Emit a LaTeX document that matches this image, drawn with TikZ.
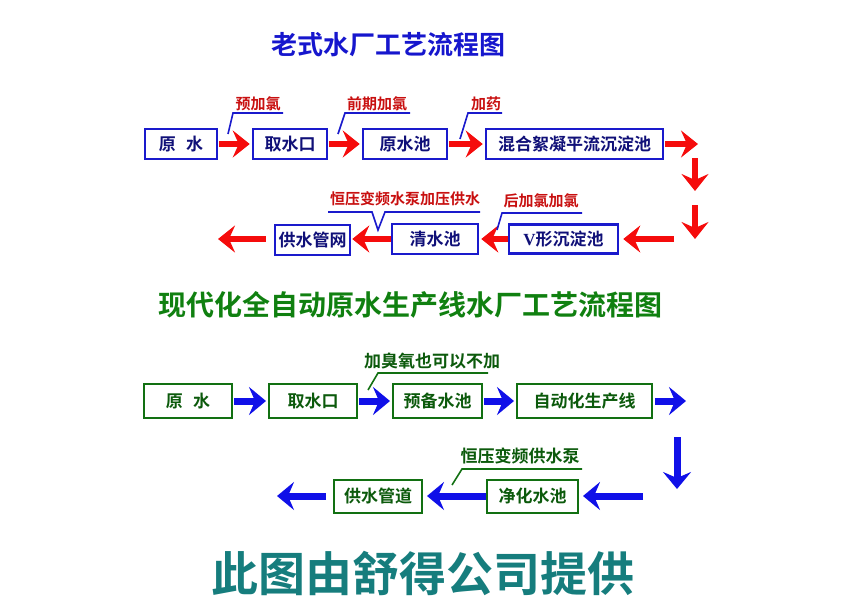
\documentclass[tikz,border=0pt]{standalone}
\usepackage{fontspec}
\setmainfont{Noto Sans CJK SC}[BoldFont={* Bold}]
\newfontfamily\vfont{Liberation Serif}
\usetikzlibrary{arrows.meta}
\definecolor{titleblue}{RGB}{22,22,205}
\definecolor{boxblue}{RGB}{26,26,204}
\definecolor{navytext}{RGB}{16,16,120}
\definecolor{arrred}{RGB}{245,12,12}
\definecolor{labred}{RGB}{200,16,16}
\definecolor{gborder}{RGB}{18,112,18}
\definecolor{gtext}{RGB}{12,90,12}
\definecolor{titlegreen}{RGB}{16,128,16}
\definecolor{arrblue}{RGB}{16,16,232}
\definecolor{tealc}{RGB}{22,125,125}
\begin{document}
\begin{tikzpicture}[x=1pt,y=-1pt,
  bbox/.style={draw=boxblue, line width=2.5pt, fill=white, text=navytext,
    font=\bfseries\fontsize{17}{17}\selectfont, inner sep=0pt, minimum height=30pt},
  gbox/.style={draw=gborder, line width=2pt, fill=white, text=gtext,
    font=\bfseries\fontsize{17}{17}\selectfont, inner sep=0pt, minimum height=34pt},
  rarr/.style={draw=arrred, line width=6pt, -{Stealth[length=17pt,width=27pt,inset=6pt]}},
  barr/.style={draw=arrblue, line width=7pt, -{Stealth[length=17pt,width=28pt,inset=6pt]}},
  lead/.style={draw=boxblue, line width=1.6pt},
  glead/.style={draw=gborder, line width=1.6pt},
  rlab/.style={text=labred, font=\bfseries\fontsize{15}{15}\selectfont, inner sep=0pt},
  glab/.style={text=gtext, font=\bfseries\fontsize{17}{17}\selectfont, inner sep=0pt},
  ttl/.style={inner sep=0pt, font=\bfseries\fontsize{26}{26}\selectfont}
]
\useasboundingbox (0,0) rectangle (850,600);

% titles
\node[ttl, text=titleblue] (t1) at (388,45) {老式水厂工艺流程图};
\node[ttl, text=titlegreen, font=\bfseries\fontsize{28}{28}\selectfont] (t2) at (410,305) {现代化全自动原水生产线水厂工艺流程图};
\node[ttl, text=tealc, font=\bfseries\fontsize{47}{47}\selectfont] (t3) at (423,573) {此图由舒得公司提供};

% row 1
\node[bbox, minimum width=72pt] (a1) at (181,144) {原\hspace{0.6em}水};
\node[bbox, minimum width=74pt] (a2) at (290,144) {取水口};
\node[bbox, minimum width=84pt] (a3) at (405,144) {原水池};
\node[bbox, minimum width=177pt] (a4) at (574.5,144) {混合絮凝平流沉淀池};
\coordinate (e1) at (698,144);
\draw[rarr, shorten >=2pt, shorten <=1pt] (a1) -- (a2);
\draw[rarr, shorten >=2pt, shorten <=1pt] (a2) -- (a3);
\draw[rarr, shorten >=2pt, shorten <=1pt] (a3) -- (a4);
\draw[rarr, shorten <=1pt] (a4) -- (e1);

% down arrows (red)
\coordinate (d1s) at (695,158); \coordinate (d1e) at (695,191);
\coordinate (d2s) at (695,205); \coordinate (d2e) at (695,239);
\draw[rarr] (d1s) -- (d1e);
\draw[rarr] (d2s) -- (d2e);

% row 2
\node[bbox, minimum width=109pt, minimum height=29pt] (b1) at (563.5,239) {{\vfont V}形沉淀池};
\node[bbox, minimum width=86pt] (b2) at (435,239) {清水池};
\node[bbox, minimum width=75pt] (b3) at (312.5,240) {供水管网};
\coordinate (r2s) at (674,239);
\coordinate (e2) at (218,239);
\draw[rarr, shorten >=4pt] (r2s) -- (b1.east);
\draw[rarr, shorten >=2pt] (b1.west) -- (b2.east);
\draw[rarr, shorten >=1pt] (b2.west) -- (b3.east |- b2.west);
\draw[rarr, shorten <=8pt] (b3.west |- e2) -- (e2);

% labels row 1
\node[rlab] (l1) at (258,104) {预加氯};
\draw[lead] (283,113) -- (233,113) -- (228,134);
\node[rlab] (l2) at (377,104) {前期加氯};
\draw[lead] (410,113) -- (345,113) -- (338,134);
\node[rlab] (l3) at (486,104) {加药};
\draw[lead] (502,113) -- (468,113) -- (460,139);
% labels row 2
\node[rlab] (l4) at (405,199) {恒压变频水泵加压供水};
\draw[lead] (328,212) -- (372,212) -- (378,230) -- (385,212) -- (480,212);
\node[rlab] (l5) at (541,201) {后加氯加氯};
\draw[lead] (582,213) -- (502,213) -- (497,230);

% row 3
\node[gbox, minimum width=88pt] (c1) at (188,401) {原\hspace{0.6em}水};
\node[gbox, minimum width=88pt] (c2) at (313,401) {取水口};
\node[gbox, minimum width=89pt] (c3) at (437.5,401) {预备水池};
\node[gbox, minimum width=135pt] (c4) at (584.5,401) {自动化生产线};
\coordinate (e3) at (686,401);
\draw[barr, shorten >=2pt, shorten <=1pt] (c1) -- (c2);
\draw[barr, shorten >=2pt, shorten <=1pt] (c2) -- (c3);
\draw[barr, shorten >=2pt, shorten <=1pt] (c3) -- (c4);
\draw[barr, shorten <=2pt] (c4) -- (e3);
\coordinate (d3s) at (677,437); \coordinate (d3e) at (677,489);
\draw[barr] (d3s) -- (d3e);

% row 4
\node[gbox, minimum width=91pt, minimum height=33pt] (f1) at (532.5,496) {净化水池};
\node[gbox, minimum width=88pt, minimum height=33pt] (f2) at (378,496) {供水管道};
\coordinate (r4s) at (643,496);
\coordinate (e4) at (277,496);
\draw[barr, shorten >=4pt] (r4s) -- (f1.east);
\draw[barr, shorten >=4pt] (f1.west) -- (f2.east);
\draw[barr, shorten <=7pt] (f2.west) -- (e4);

% labels green
\node[glab] (g1) at (432,361) {加臭氧也可以不加};
\draw[glead] (488,373) -- (378,373) -- (368,390);
\node[glab] (g2) at (520,456) {恒压变频供水泵};
\draw[glead] (582,469) -- (462,469) -- (452,485);
\end{tikzpicture}
\end{document}
